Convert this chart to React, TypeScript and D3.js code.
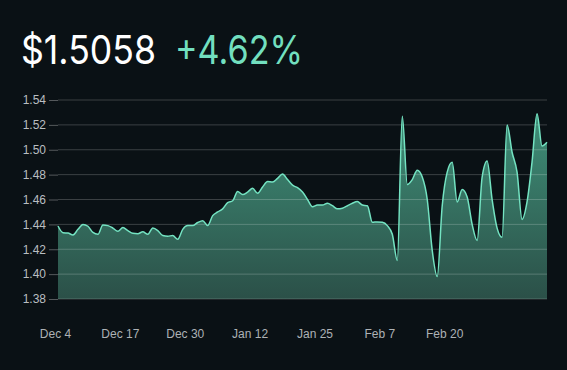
import React, { useEffect, useRef } from 'react'
import * as d3 from 'd3'

// daily prices from Dec 4 (2023) onwards
const startDate = new Date(2023, 11, 4)
const prices = [
  1.4387, 1.4333, 1.433, 1.4315, 1.436, 1.44, 1.4385, 1.4335, 1.432, 1.4395,
  1.439, 1.437, 1.4345, 1.4374, 1.435, 1.4328, 1.4325, 1.434, 1.432, 1.437,
  1.435, 1.431, 1.4305, 1.431, 1.428, 1.436, 1.439, 1.439, 1.4415, 1.443,
  1.439, 1.447, 1.45, 1.4525, 1.4575, 1.459, 1.4665, 1.464, 1.466, 1.469,
  1.465, 1.47, 1.4745, 1.474, 1.477, 1.4805, 1.476, 1.4715, 1.4695, 1.466,
  1.46, 1.4542, 1.4556, 1.4555, 1.457, 1.455, 1.4525, 1.453, 1.455, 1.457,
  1.4583, 1.4555, 1.455, 1.4417, 1.442, 1.4417, 1.439, 1.432, 1.411, 1.527,
  1.472, 1.476, 1.4835, 1.478, 1.46, 1.419, 1.398, 1.455, 1.482, 1.4899,
  1.458, 1.468, 1.462, 1.44, 1.427, 1.478, 1.491, 1.46, 1.437, 1.4296,
  1.52, 1.498, 1.482, 1.444, 1.458, 1.49, 1.529, 1.503, 1.506,
]
const yTicks = [1.38, 1.4, 1.42, 1.44, 1.46, 1.48, 1.5, 1.52, 1.54]
const xTickDays = [0, 13, 26, 39, 52, 65, 78]
const priceLabel = '$1.5058'
const changeLabel = '+4.62%'

export default function App(): React.ReactElement {
  const chartRef = useRef<HTMLDivElement>(null)

  useEffect(() => {
    const width = 567
    const height = 370
    const marginLeft = 58
    const right = 547
    const top = 100
    const bottom = 299

    const data = prices.map((p, i) => ({ date: d3.timeDay.offset(startDate, i), price: p }))

    const x = d3
      .scaleTime()
      .domain([data[0].date, data[data.length - 1].date])
      .range([marginLeft, right])

    const y = d3.scaleLinear().domain([1.38, 1.54]).range([bottom, top])

    d3.select(chartRef.current).select('svg').remove()

    const svg = d3
      .select(chartRef.current)
      .append('svg')
      .attr('width', width)
      .attr('height', height)
      .attr('style', 'position:absolute; left:0; top:0; background:#0a1115; font-family:"Liberation Sans", Arial, sans-serif;')

    const defs = svg.append('defs')
    const grad = defs
      .append('linearGradient')
      .attr('id', 'areaFill')
      .attr('x1', 0)
      .attr('y1', 0)
      .attr('x2', 0)
      .attr('y2', 1)
    grad.append('stop').attr('offset', '0%').attr('stop-color', '#3f8f78')
    grad.append('stop').attr('offset', '100%').attr('stop-color', '#2b5048')

    // title
    svg
      .append('text')
      .attr('x', 21)
      .attr('y', 64)
      .attr('fill', '#ffffff')
      .attr('font-family', 'Inter, sans-serif')
      .attr('font-size', 40)
      .attr('textLength', 135)
      .attr('lengthAdjust', 'spacingAndGlyphs')
      .text(priceLabel)
    svg
      .append('text')
      .attr('x', 175)
      .attr('y', 64)
      .attr('fill', '#72dfbf')
      .attr('font-family', 'Inter, sans-serif')
      .attr('font-size', 40)
      .attr('textLength', 128)
      .attr('lengthAdjust', 'spacingAndGlyphs')
      .text(changeLabel)

    const area = d3
      .area<{ date: Date; price: number }>()
      .x((d) => x(d.date))
      .y0(bottom)
      .y1((d) => y(d.price))
      .curve(d3.curveMonotoneX)

    const line = d3
      .line<{ date: Date; price: number }>()
      .x((d) => x(d.date))
      .y((d) => y(d.price))
      .curve(d3.curveMonotoneX)

    svg.append('path').datum(data).attr('fill', 'url(#areaFill)').attr('d', area)

    // grid
    svg
      .append('g')
      .selectAll('line')
      .data(yTicks)
      .join('line')
      .attr('x1', marginLeft)
      .attr('x2', right)
      .attr('y1', (d) => y(d))
      .attr('y2', (d) => y(d))
      .attr('stroke', '#ffffff')
      .attr('stroke-opacity', 0.2)

    svg
      .append('path')
      .datum(data)
      .attr('fill', 'none')
      .attr('stroke', '#74e3c2')
      .attr('stroke-width', 1.5)
      .attr('d', line)

    // y axis
    svg
      .append('g')
      .attr('transform', `translate(${marginLeft},0)`)
      .call(
        d3
          .axisLeft(y)
          .tickValues(yTicks)
          .tickFormat(d3.format('.2f'))
          .tickSize(9)
          .tickPadding(3)
      )
      .call((g) => g.select('.domain').remove())
      .call((g) => g.selectAll('line').attr('stroke', '#55595c'))
      .call((g) =>
        g
          .selectAll('text')
          .attr('fill', '#b9bec1')
          .attr('font-size', 12)
          .attr('font-family', '"Liberation Sans", Arial, sans-serif')
      )

    // x axis (labels sit a little left of the day boundary)
    svg
      .append('g')
      .attr('transform', `translate(-3,${bottom + 24})`)
      .call(
        d3
          .axisBottom(x)
          .tickValues(xTickDays.map((d) => d3.timeDay.offset(startDate, d)))
          .tickFormat(d3.timeFormat('%b %-d') as any)
          .tickSize(0)
          .tickPadding(6)
      )
      .call((g) => g.select('.domain').remove())
      .call((g) =>
        g
          .selectAll('text')
          .attr('fill', '#adb2b5')
          .attr('font-size', 12)
          .attr('font-family', '"Liberation Sans", Arial, sans-serif')
      )
  }, [])

  return <div ref={chartRef}></div>
}
